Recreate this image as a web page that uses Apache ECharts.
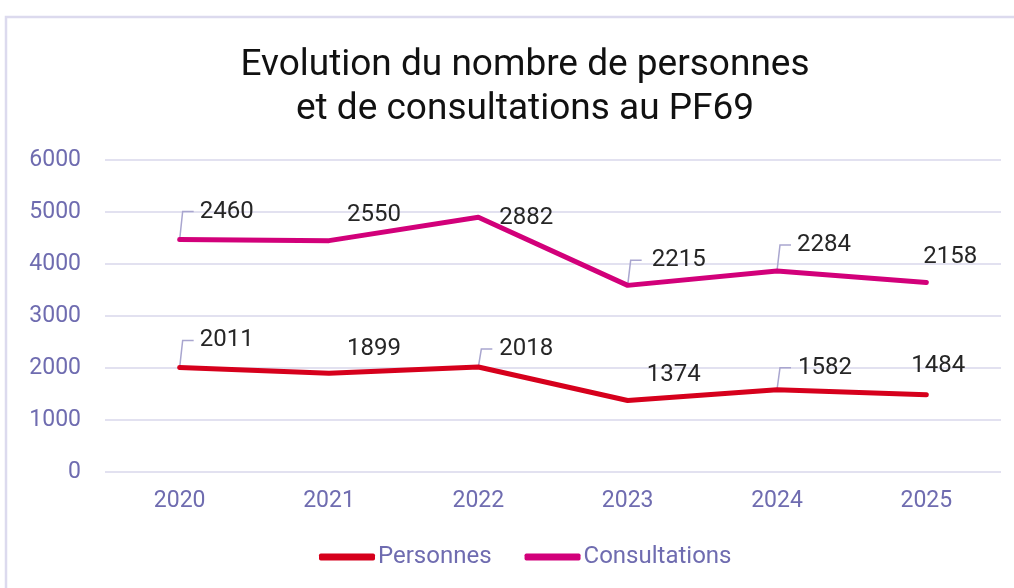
<!DOCTYPE html>
<html>
<head>
<meta charset="utf-8">
<script src="https://cdn.jsdelivr.net/npm/echarts@6/dist/echarts.min.js"></script>
<style>html,body{margin:0;padding:0;background:#fff}#c{width:1014px;height:588px}</style>
</head>
<body>
<div id="c"></div>
<script>
// ---- data ----
const years = ['2020', '2021', '2022', '2023', '2024', '2025'];
const personnes = [2011, 1899, 2018, 1374, 1582, 1484];
const consultations = [2460, 2550, 2882, 2215, 2284, 2158];
const yTicks = [0, 1000, 2000, 3000, 4000, 5000, 6000];

// ---- label layout (styling, not data) ----
const persOffsets = [[47, -27], [45, -24], [48, -18], [46, -26], [48, -22], [12, -29]];
const consOffsets = [[47, -28], [45, -26], [48, 1], [51, -25], [47, -26], [24, -26]];
const persLeaders = [0, 2, 4];
const consLeaders = [0, 3, 4];

const RED = '#D6001C';
const MAG = '#D2007A';
const AXIS_TXT = '#6F6CB0';
const GRID = '#D9D7EB';
const LEADER = '#A9A6CF';

const chart = echarts.init(document.getElementById('c'));

function labelled(values, offsets) {
  return values.map((v, i) => ({ value: v, label: { offset: offsets[i] } }));
}

function leaderSeries(values, base, idxs, offsets) {
  return {
    type: 'custom',
    coordinateSystem: 'cartesian2d',
    silent: true,
    z: 1,
    data: idxs.map(i => [i, values[i] + (base ? base[i] : 0), offsets[i][1]]),
    renderItem: function (params, api) {
      const p = api.coord([api.value(0), api.value(1)]);
      const dy = api.value(2);
      return {
        type: 'polyline',
        shape: { points: [[p[0], p[1]], [p[0] + 3, p[1] + dy], [p[0] + 14, p[1] + dy]] },
        style: { stroke: LEADER, lineWidth: 1.5, fill: null }
      };
    }
  };
}

const option = {
  backgroundColor: '#fff',
  animation: false,
  graphic: [{
    type: 'rect',
    shape: { x: 6, y: 17, width: 1200, height: 800 },
    style: { fill: 'none', stroke: '#DCDAEE', lineWidth: 2.5 },
    silent: true, z: -10
  }],
  title: {
    text: 'Evolution du nombre de personnes\net de consultations au PF69',
    left: 520,
    textAlign: 'center',
    top: 39,
    textStyle: { fontFamily: 'Roboto', fontWeight: 'normal', fontSize: 37, lineHeight: 44, color: '#111' }
  },
  legend: {
    data: ['Personnes', 'Consultations'],
    left: 314,
    top: 540,
    icon: 'roundRect',
    itemWidth: 56,
    itemHeight: 7,
    itemGap: 33,
    textStyle: { fontFamily: 'Roboto', fontSize: 24, color: AXIS_TXT, padding: [0, 0, 0, -2] }
  },
  grid: { left: 105, right: 13, top: 160, bottom: 116 },
  xAxis: {
    type: 'category',
    data: years,
    boundaryGap: true,
    axisLine: { show: false },
    axisTick: { show: false },
    axisLabel: { fontFamily: 'Roboto', fontSize: 23, color: AXIS_TXT, margin: 18 }
  },
  yAxis: {
    type: 'value',
    min: yTicks[0],
    max: yTicks[yTicks.length - 1],
    interval: yTicks[1] - yTicks[0],
    axisLine: { show: false },
    axisTick: { show: false },
    axisLabel: { fontFamily: 'Roboto', fontSize: 23, color: AXIS_TXT, margin: 24, formatter: v => String(v) },
    splitLine: { lineStyle: { color: GRID, width: 1.5 } }
  },
  series: [
    {
      name: 'Personnes',
      type: 'line',
      stack: 'total',
      data: labelled(personnes, persOffsets),
      color: RED,
      lineStyle: { width: 5, color: RED, cap: 'round', join: 'round' },
      symbol: 'circle',
      symbolSize: 1,
      showSymbol: true,
      itemStyle: { color: RED },
      z: 3,
      label: { show: true, position: 'inside', fontFamily: 'Roboto', fontSize: 24, color: '#262626' }
    },
    {
      name: 'Consultations',
      type: 'line',
      stack: 'total',
      data: labelled(consultations, consOffsets),
      color: MAG,
      lineStyle: { width: 5, color: MAG, cap: 'round', join: 'round' },
      symbol: 'circle',
      symbolSize: 1,
      showSymbol: true,
      itemStyle: { color: MAG },
      z: 3,
      label: { show: true, position: 'inside', fontFamily: 'Roboto', fontSize: 24, color: '#262626' }
    },
    leaderSeries(personnes, null, persLeaders, persOffsets),
    leaderSeries(consultations, personnes, consLeaders, consOffsets)
  ]
};
chart.setOption(option);
</script>
</body>
</html>
